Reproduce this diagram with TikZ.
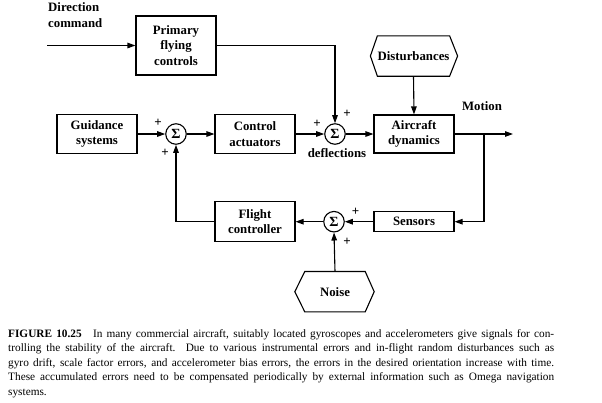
\documentclass[tikz,border=0pt]{standalone}
\usepackage{fontspec}
\setmainfont{Liberation Serif}
\usetikzlibrary{arrows.meta}
\begin{document}
\begin{tikzpicture}[x=1pt,y=-1pt,
  every node/.style={font=\fontsize{12.8}{15.5}\selectfont\bfseries},
  blk/.style={draw, line width=1.1pt, inner sep=0pt, align=center},
  sumn/.style={draw, circle, line width=1.1pt, minimum size=20.5pt, inner sep=0pt, font=\fontsize{14}{14}\selectfont\bfseries},
  hexn/.style={inner sep=0pt, align=center},
  hexline/.style={line width=1.1pt, line join=miter},
  conn/.style={line width=1.1pt, -{Triangle[length=8pt,width=5.5pt]}},
  plus/.style={font=\fontsize{13}{13}\selectfont\bfseries, inner sep=0pt},
  lbl/.style={inner sep=0pt, align=left},
  captext/.style={font=\fontsize{11.3}{12}\selectfont, inner sep=0pt, anchor=base west},
]
\useasboundingbox (0,0) rectangle (602,402);

% labels
\node[lbl, anchor=west] (dircmd) at (48,15) {Direction\\command};
\coordinate (in) at (47,45.5);

% blocks
\node[blk, minimum width=80pt, minimum height=59pt] (prim) at (176,45.5) {Primary\\flying\\controls};
\node[blk, minimum width=80pt, minimum height=39pt] (guid) at (97,134) {Guidance\\systems};
\node[sumn] (s1) at (176,134) {Σ};
\node[blk, minimum width=80pt, minimum height=39pt] (act) at (255,134) {Control\\actuators};
\node[sumn] (s2) at (335,134) {Σ};
\node[blk, minimum width=80pt, minimum height=38pt] (air) at (414,134) {Aircraft\\dynamics};
\node[hexn, minimum width=63pt, minimum height=40pt] (dist) at (413.5,56) {Disturbances};
\draw[hexline] (dist.north west) -- (dist.north east) -- ([xshift=8pt]dist.east) -- (dist.south east) -- (dist.south west) -- ([xshift=-7pt]dist.west) -- cycle;

\node[blk, minimum width=80pt, minimum height=20pt] (sens) at (414,221.7) {Sensors};
\node[sumn] (s3) at (334,221.7) {Σ};
\node[blk, minimum width=80pt, minimum height=40pt] (fc) at (255,221.7) {Flight\\controller};
\node[hexn, minimum width=60pt, minimum height=40pt] (noise) at (335,291.7) {Noise};
\draw[hexline] (noise.north west) -- (noise.north east) -- ([xshift=9pt]noise.east) -- (noise.south east) -- (noise.south west) -- ([xshift=-10pt]noise.west) -- cycle;

\node[lbl] (motion) at (482,106) {Motion};
\node[lbl] (defl) at (337,153) {deflections};

% plus signs
\node[plus] (p1a) at (158,123) {+};
\node[plus] (p1b) at (165,153) {+};
\node[plus] (p2a) at (317,124) {+};
\node[plus] (p2b) at (347,114) {+};
\node[plus] (p3a) at (355.5,211.7) {+};
\node[plus] (p3b) at (347,241.5) {+};

% connectors
\coordinate (out) at (513,134);
\coordinate (br) at (484,134);
\draw[conn] (in) -- (prim.west);
\draw[conn] (prim.east) -| (s2.north);
\draw[conn] (guid.east) -- (s1.west);
\draw[conn] (s1.east) -- (act.west);
\draw[conn] (act.east) -- (s2.west);
\draw[conn] (s2.east) -- (air.west);
\draw[conn] (dist.south) -- (air.north);
\draw[conn] (air.east) -- (out);
\draw[conn] (br) |- (sens.east);
\draw[conn] (sens.west) -- (s3.east);
\draw[conn] (noise.north) -- (s3.south);
\draw[conn] (s3.west) -- (fc.east);
\draw[conn] (fc.west) -| (s1.south);

% caption
\node[captext] (c1) at (8,337) {\makebox[546pt][s]{\textbf{FIGURE 10.25}\quad In many commercial aircraft, suitably located gyroscopes and accelerometers give signals for con-}};
\node[captext] (c2) at (8,351.5) {\makebox[546pt][s]{trolling the stability of the aircraft. Due to various instrumental errors and in-flight random disturbances such as}};
\node[captext] (c3) at (8,366) {\makebox[546pt][s]{gyro drift, scale factor errors, and accelerometer bias errors, the errors in the desired orientation increase with time.}};
\node[captext] (c4) at (8,380.5) {\makebox[546pt][s]{These accumulated errors need to be compensated periodically by external information such as Omega navigation}};
\node[captext] (c5) at (8,395) {systems.};
\end{tikzpicture}
\end{document}
